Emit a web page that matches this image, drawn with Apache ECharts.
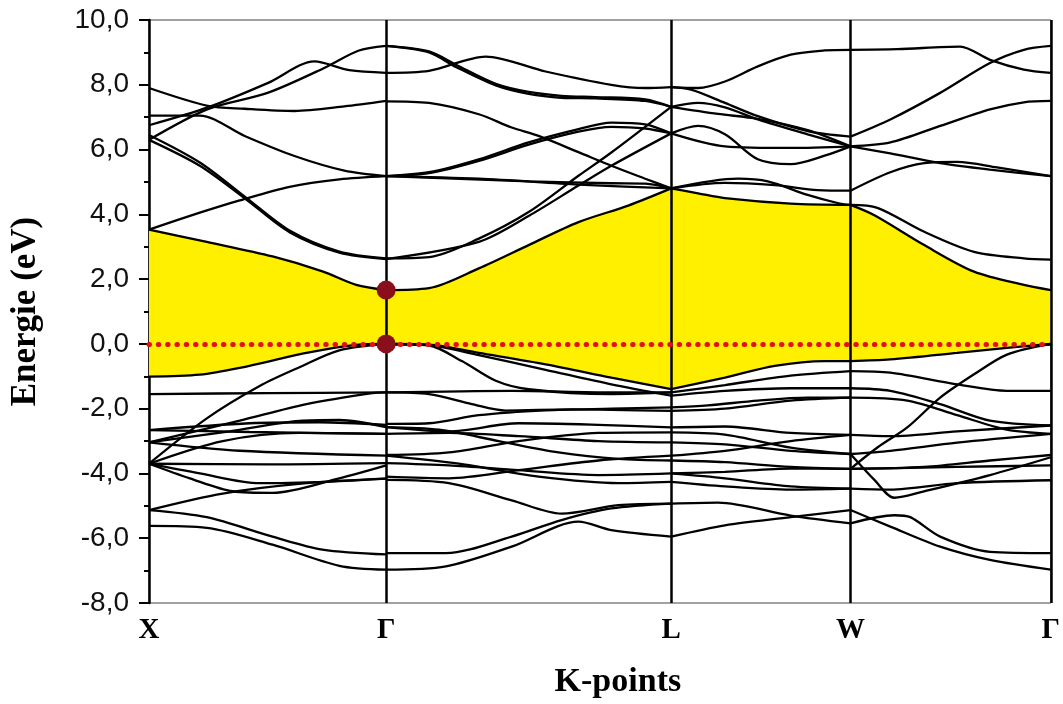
<!DOCTYPE html>
<html lang="fr">
<head>
<meta charset="UTF-8">
<title>Structure de bandes</title>
<script src="https://cdn.jsdelivr.net/npm/echarts@6/dist/echarts.min.js"></script>
<style>
    html, body { margin: 0; padding: 0; background: #fff; }
    #chart { width: 1063px; height: 704px; }
</style>
</head>
<body>
<div id="chart"></div>
<script>
// high symmetry points along the k path
var kPoints = [0, 2.38, 5.24, 7.04, 9.05];
var kLabels = ['X', 'Γ', 'L', 'W', 'Γ'];
var energyTicks = [-8, 10, 2];

// edges of the gap (conduction bottom / valence top), one array per segment
var cbXG = [[0,3.53],[0.58,3.15],[1.24,2.7],[1.74,2.24],[2.08,1.82],[2.38,1.66]];
var vbXG = [[0,-1.01],[0.51,-0.95],[0.91,-0.74],[1.58,-0.28],[2.08,-0.03],[2.38,0]];
var cbGL = [[2.38,1.66],[2.81,1.72],[3.31,2.33],[3.81,3.05],[4.31,3.76],[4.81,4.27],[5.24,4.8]];
var vbGL = [[2.38,0],[2.81,-0.02],[3.31,-0.28],[3.98,-0.63],[4.64,-1.04],[5.24,-1.4]];
var cbLW = [[5.24,4.8],[5.51,4.65],[5.78,4.5],[6.44,4.33],[7.04,4.29]];
var vbLW = [[5.24,-1.4],[5.78,-1.04],[6.28,-0.68],[6.78,-0.53],[7.04,-0.53]];
var cbWG = [[7.04,4.29],[7.28,3.97],[7.78,3.05],[8.28,2.23],[8.78,1.82],[9.05,1.66]];
var vbWG = [[7.04,-0.53],[7.44,-0.48],[8.11,-0.28],[8.61,-0.12],[9.05,0]];

// other bands, X -> Γ
var bandsXG = [
    [[0,6.3],[0.59,7.25],[1.19,7.75],[1.78,8.55],[2.1,9.05],[2.38,9.2]],
    [[0,6.75],[0.59,7.3],[1.19,8.05],[1.66,8.72],[2.01,8.45],[2.38,8.37]],
    [[0,7.9],[0.59,7.35],[0.96,7.26],[1.46,7.19],[1.96,7.33],[2.38,7.5]],
    [[0,7.05],[0.51,7.05],[0.96,6.42],[1.46,5.8],[1.96,5.35],[2.38,5.18]],
    [[0,6.45],[0.51,5.6],[0.98,4.5],[1.41,3.5],[1.91,2.85],[2.38,2.64]],
    [[0,6.3],[0.51,5.5],[0.98,4.45],[1.41,3.45],[1.91,2.82],[2.38,2.62]],
    [[0,3.53],[0.51,4.05],[0.91,4.43],[1.41,4.85],[1.91,5.08],[2.38,5.18]],
    [[0,-3.7],[0.58,-2.3],[1.11,-1.3],[1.51,-0.72],[1.91,-0.2],[2.38,0]],
    [[0,-1.55],[1.2,-1.52],[2.38,-1.5]],
    [[0,-3.04],[0.91,-2.37],[1.58,-1.86],[2.24,-1.52],[2.38,-1.5]],
    [[0,-2.66],[1.01,-2.45],[1.71,-2.42],[2.38,-2.5]],
    [[0,-2.66],[1.01,-2.72],[2.38,-2.78]],
    [[0,-3.04],[0.81,-2.7],[1.51,-2.38],[1.91,-2.35],[2.38,-2.57]],
    [[0,-3.04],[0.91,-3.3],[2.38,-3.45]],
    [[0,-3.7],[0.74,-3.0],[1.51,-2.75],[2.38,-2.78]],
    [[0,-3.7],[1.2,-3.72],[2.38,-3.68]],
    [[0,-3.7],[0.41,-4.15],[0.84,-4.55],[1.24,-4.6],[1.91,-4.15],[2.38,-3.75]],
    [[0,-3.7],[0.51,-4.0],[1.11,-4.3],[1.81,-4.25],[2.38,-4.16]],
    [[0,-5.13],[0.74,-4.62],[1.58,-4.3],[2.38,-4.16]],
    [[0,-5.13],[0.58,-5.35],[1.24,-5.95],[1.74,-6.35],[2.38,-6.5]],
    [[0,-5.62],[0.58,-5.68],[1.24,-6.2],[1.91,-6.85],[2.38,-6.97]]
];

// Γ -> L
var bandsGL = [
    [[2.38,9.2],[2.81,9.03],[3.08,8.62],[3.48,8.03],[3.81,7.78],[4.14,7.66],[4.48,7.62],[4.98,7.55],[5.24,7.32]],
    [[2.38,9.2],[2.81,9.0],[3.08,8.55],[3.48,7.98],[3.81,7.72],[4.14,7.6],[4.48,7.58],[4.98,7.5],[5.24,7.32]],
    [[2.38,8.37],[2.81,8.43],[3.38,8.87],[3.98,8.41],[4.64,8.0],[4.98,7.9],[5.24,7.93]],
    [[2.38,7.49],[2.81,7.44],[3.31,7.09],[3.64,6.68],[3.91,6.42],[4.31,5.92],[4.64,5.5],[4.98,5.1],[5.24,4.8]],
    [[2.38,5.18],[2.81,5.3],[3.31,5.7],[3.81,6.22],[4.31,6.63],[4.64,6.83],[4.98,6.78],[5.24,6.5]],
    [[2.38,5.18],[2.81,5.27],[3.31,5.65],[3.81,6.15],[4.31,6.55],[4.64,6.7],[4.98,6.65],[5.24,6.5]],
    [[2.38,2.64],[2.81,2.68],[3.31,3.25],[3.81,4.07],[4.31,5.19],[4.64,5.91],[5.24,7.32]],
    [[2.38,2.62],[3.31,3.15],[3.81,3.95],[4.31,4.89],[4.64,5.5],[5.24,6.5]],
    [[2.38,5.18],[3.31,5.1],[4.31,4.92],[5.24,4.8]],
    [[2.38,5.18],[3.81,5.02],[4.64,4.96],[4.98,4.95],[5.24,4.8]],
    [[2.38,0],[2.81,-0.05],[3.14,-0.53],[3.48,-1.14],[3.81,-1.4],[4.64,-1.55],[5.24,-1.5]],
    [[2.38,0],[2.81,-0.04],[3.31,-0.35],[3.98,-0.8],[4.64,-1.25],[5.24,-1.6]],
    [[2.38,-1.5],[3.64,-1.45],[4.64,-1.5],[5.24,-1.5]],
    [[2.38,-1.5],[2.81,-1.55],[3.24,-1.86],[3.58,-2.06],[4.24,-2.02],[5.24,-2.07]],
    [[2.38,-2.47],[2.81,-2.45],[3.31,-2.2],[3.98,-2.05],[4.64,-2.0],[5.24,-1.96]],
    [[2.38,-2.57],[3.01,-2.7],[3.71,-2.45],[4.51,-2.5],[5.24,-2.58]],
    [[2.38,-2.78],[3.01,-2.75],[3.71,-2.85],[4.51,-3.0],[5.24,-3.04]],
    [[2.38,-2.57],[2.91,-2.65],[3.51,-3.0],[4.11,-3.35],[4.71,-3.55],[5.24,-3.6]],
    [[2.38,-3.43],[3.01,-3.35],[3.71,-3.0],[4.51,-2.75],[5.24,-2.73]],
    [[2.38,-3.68],[3.01,-3.75],[3.71,-3.9],[4.51,-4.05],[5.24,-4.0]],
    [[2.38,-3.45],[3.11,-3.7],[3.91,-4.1],[4.71,-4.3],[5.24,-4.26]],
    [[2.38,-4.1],[3.01,-4.15],[3.71,-3.9],[4.51,-3.6],[5.24,-3.45]],
    [[2.38,-4.2],[3.01,-4.3],[3.64,-4.83],[4.14,-5.24],[4.71,-4.98],[5.24,-4.93]],
    [[2.38,-6.46],[2.98,-6.46],[3.64,-5.95],[4.14,-5.44],[4.64,-5.08],[5.24,-4.93]],
    [[2.38,-6.97],[2.98,-6.87],[3.64,-6.26],[4.31,-5.49],[4.64,-5.75],[5.24,-5.95]]
];

// L -> W
var bandsLW = [
    [[5.24,7.93],[5.51,7.9],[5.78,8.1],[6.11,8.57],[6.44,8.93],[6.78,9.06],[7.04,9.08]],
    [[5.24,7.93],[5.44,7.85],[5.78,7.44],[6.11,7.03],[6.61,6.57],[7.04,6.4]],
    [[5.24,7.32],[5.51,7.44],[5.78,7.3],[6.11,6.93],[6.61,6.47],[7.04,6.1]],
    [[5.24,7.32],[5.71,7.1],[6.11,6.95],[6.61,6.6],[7.04,6.1]],
    [[5.24,6.5],[5.51,6.73],[5.78,6.47],[6.11,5.7],[6.44,5.55],[6.78,5.81],[7.04,6.1]],
    [[5.24,6.5],[5.78,6.1],[6.44,6.05],[7.04,6.1]],
    [[5.24,4.8],[5.91,5.1],[6.21,5.02],[6.61,4.6],[6.91,4.35],[7.04,4.29]],
    [[5.24,4.8],[5.78,4.97],[6.28,4.9],[6.71,4.75],[7.04,4.73]],
    [[5.24,-1.5],[5.78,-1.27],[6.44,-0.98],[7.04,-0.84]],
    [[5.24,-1.6],[5.78,-1.45],[6.44,-1.37],[7.04,-1.37]],
    [[5.24,-1.96],[5.61,-1.9],[6.11,-1.75],[6.61,-1.66],[7.04,-1.66]],
    [[5.24,-2.07],[5.78,-2.0],[6.44,-1.75],[7.04,-1.66]],
    [[5.24,-2.58],[5.78,-2.55],[6.44,-2.75],[7.04,-2.81]],
    [[5.24,-2.73],[5.78,-2.8],[6.44,-3.2],[7.04,-3.4]],
    [[5.24,-3.04],[5.78,-3.1],[6.44,-3.3],[7.04,-3.4]],
    [[5.24,-3.45],[5.78,-3.3],[6.44,-3.0],[7.04,-2.81]],
    [[5.24,-3.6],[5.78,-3.65],[6.44,-3.8],[7.04,-3.86]],
    [[5.24,-4.0],[5.78,-3.95],[6.44,-3.85],[7.04,-3.86]],
    [[5.24,-4.26],[5.78,-4.4],[6.44,-4.5],[7.04,-4.47]],
    [[5.24,-4.0],[5.78,-4.15],[6.44,-4.4],[7.04,-4.47]],
    [[5.24,-4.93],[5.71,-4.9],[6.44,-5.3],[7.04,-5.54]],
    [[5.24,-5.95],[5.78,-5.6],[6.44,-5.35],[7.04,-5.13]]
];

// W -> Γ
var bandsWG = [
    [[7.04,9.08],[7.51,9.1],[8.14,9.18],[8.44,8.77],[8.78,8.47],[9.05,8.37]],
    [[7.04,6.4],[7.44,6.93],[7.94,7.75],[8.44,8.67],[8.78,9.08],[9.05,9.2]],
    [[7.04,6.1],[7.44,6.22],[7.94,6.73],[8.44,7.24],[8.78,7.46],[9.05,7.5]],
    [[7.04,6.1],[7.44,5.88],[7.94,5.58],[8.44,5.38],[9.05,5.18]],
    [[7.04,4.73],[7.44,5.3],[7.78,5.58],[8.11,5.62],[8.51,5.45],[9.05,5.18]],
    [[7.04,4.29],[7.31,4.2],[7.78,3.46],[8.28,2.84],[8.78,2.64],[9.05,2.6]],
    [[7.04,-3.86],[7.31,-3.2],[7.61,-2.58],[7.94,-1.66],[8.28,-0.94],[8.61,-0.33],[9.05,0]],
    [[7.04,-0.84],[7.44,-0.89],[8.11,-1.25],[8.61,-1.45],[9.05,-1.45]],
    [[7.04,-1.37],[7.44,-1.45],[7.94,-1.86],[8.44,-2.37],[9.05,-2.52]],
    [[7.04,-1.66],[7.61,-1.75],[8.11,-2.2],[8.61,-2.65],[9.05,-2.78]],
    [[7.04,-2.81],[7.44,-2.85],[8.11,-2.7],[9.05,-2.52]],
    [[7.04,-3.4],[7.44,-3.3],[8.11,-3.05],[9.05,-2.78]],
    [[7.04,-3.86],[7.78,-3.8],[8.44,-3.6],[9.05,-3.43]],
    [[7.04,-3.86],[8.11,-3.8],[9.05,-3.75]],
    [[7.04,-3.4],[7.28,-4.2],[7.48,-4.75],[7.78,-4.55],[8.44,-4.05],[9.05,-3.5]],
    [[7.04,-4.47],[7.44,-4.5],[8.11,-4.3],[9.05,-4.21]],
    [[7.04,-5.13],[7.44,-5.64],[7.94,-6.26],[8.44,-6.67],[9.05,-6.97]],
    [[7.04,-5.54],[7.48,-5.29],[7.64,-5.35],[7.94,-5.95],[8.44,-6.42],[9.05,-6.46]]
];

// extrema marked at Γ (VBM and CBM)
var gapPoints = [[2.38, 0], [2.38, 1.66]];

var cbEdges = [cbXG, cbGL, cbLW, cbWG];
var vbEdges = [vbXG, vbGL, vbLW, vbWG];

var serifFont = '"Liberation Serif", "Times New Roman", serif';
var sansFont = '"Liberation Sans", Arial, sans-serif';

function fillSeries(edge) {
    return {
        type: 'line', data: edge, smooth: 0.3, symbol: 'none', silent: true, z: 1,
        lineStyle: { width: 0 },
        areaStyle: { color: '#fff000', opacity: 1, origin: 0 }
    };
}

function bandSeries(band) {
    return {
        type: 'line', data: band, smooth: 0.3, symbol: 'none', silent: true, z: 3,
        lineStyle: { color: '#000', width: 2.3 }
    };
}

var series = [];
cbEdges.concat(vbEdges).forEach(function (e) { series.push(fillSeries(e)); });

// vertical lines at Γ, L, W, Γ
series.push({
    type: 'line', data: [], z: 2, silent: true,
    markLine: {
        symbol: 'none', silent: true, label: { show: false },
        lineStyle: { color: '#000', width: 2.5, type: 'solid' },
        data: kPoints.slice(1).map(function (k) { return { xAxis: k }; })
    }
});

var allBands = cbEdges.concat(vbEdges, bandsXG, bandsGL, bandsLW, bandsWG);
allBands.forEach(function (b) { series.push(bandSeries(b)); });

// Fermi level
series.push({
    type: 'line', data: [], z: 5, silent: true,
    markLine: {
        symbol: 'none', silent: true, label: { show: false },
        lineStyle: { color: '#e3101a', width: 5, type: [0.5, 8.8], cap: 'round' },
        data: [{ yAxis: 0 }]
    }
});

series.push({
    type: 'scatter', data: gapPoints, z: 6, silent: true,
    symbol: 'circle', symbolSize: 19,
    itemStyle: { color: '#8a0f1c', opacity: 1 }
});

var chart = echarts.init(document.getElementById('chart'));
chart.setOption({
    animation: false,
    backgroundColor: '#fff',
    grid: {
        left: 149, right: 9, top: 20, bottom: 97,
        show: true, borderColor: '#444', borderWidth: 1
    },
    xAxis: {
        type: 'value', min: kPoints[0], max: kPoints[kPoints.length - 1],
        name: 'K-points', nameLocation: 'middle', nameGap: 62,
        nameTextStyle: { fontFamily: serifFont, fontWeight: 'bold', fontSize: 34, color: '#000', padding: [0, 0, 0, 36] },
        axisLine: { lineStyle: { color: '#000', width: 2.5 } },
        axisTick: { show: false },
        splitLine: { show: false },
        axisLabel: {
            customValues: kPoints,
            showMinLabel: true, showMaxLabel: true,
            margin: 13,
            fontFamily: serifFont, fontWeight: 'bold', fontSize: 29, color: '#000',
            formatter: function (v) {
                var i = kPoints.indexOf(v);
                return i >= 0 ? kLabels[i] : '';
            }
        }
    },
    yAxis: {
        type: 'value', min: energyTicks[0], max: energyTicks[1], interval: energyTicks[2],
        name: 'Energie (eV)', nameLocation: 'middle', nameGap: 106,
        nameTextStyle: { fontFamily: serifFont, fontWeight: 'bold', fontSize: 35, color: '#000' },
        axisLine: { show: true, lineStyle: { color: '#000', width: 2.5 } },
        axisTick: { show: true, length: 10, lineStyle: { color: '#000', width: 2 } },
        minorTick: { show: true, splitNumber: 2, length: 5, lineStyle: { color: '#000', width: 2 } },
        splitLine: { show: false },
        axisLabel: {
            margin: 20,
            fontFamily: sansFont, fontSize: 28, color: '#111',
            formatter: function (v) { return v.toFixed(1).replace('.', ','); }
        }
    },
    series: series
});
</script>
</body>
</html>
